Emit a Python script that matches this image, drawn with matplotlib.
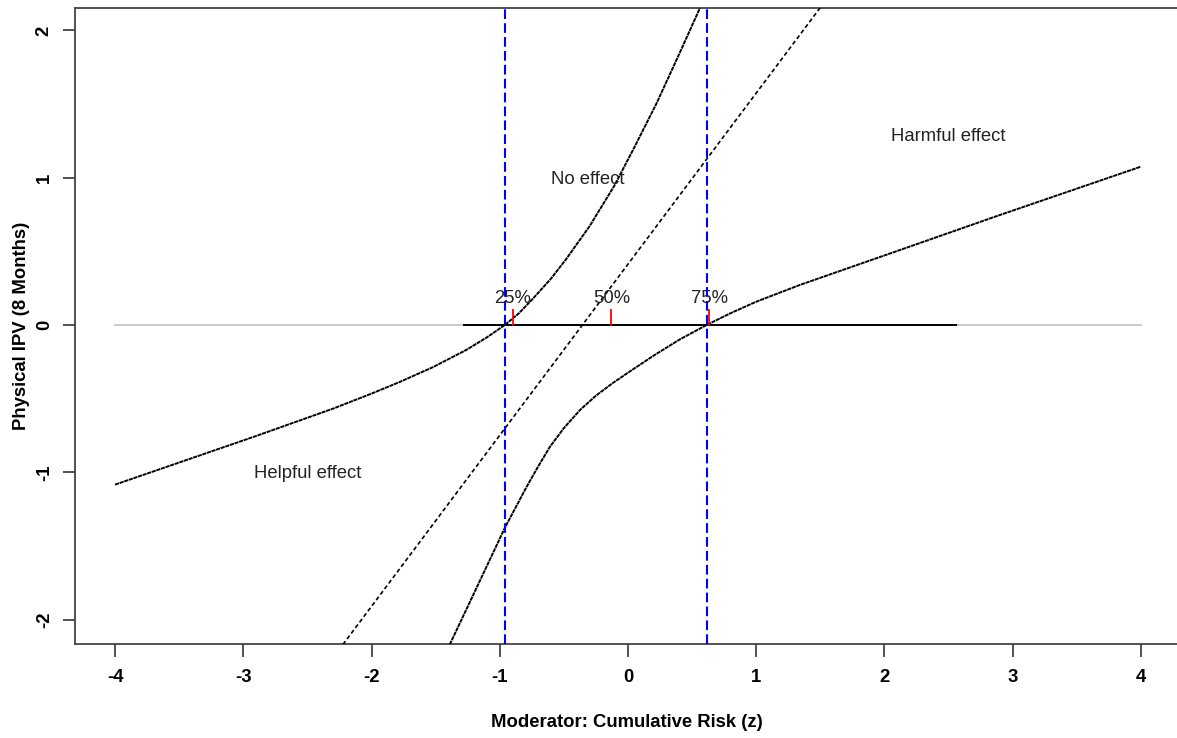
import matplotlib
matplotlib.use("Agg")
import matplotlib.pyplot as plt

plt.rcParams['font.family'] = ['Liberation Sans', 'DejaVu Sans']
plt.rcParams['lines.scale_dashes'] = False
plt.rcParams['axes.unicode_minus'] = False

# simple slope line (estimate of the effect)
z_est = [-4.0, 4.0]
est = [-4.234, 5.060]

# upper confidence band
z_upper = [-4.0, -3.47, -2.92, -2.30, -2.0, -1.78, -1.52, -1.26, -1.10, -0.96,
           -0.85, -0.74, -0.60, -0.48, -0.30, -0.11, 0.04, 0.22, 0.41, 0.56, 0.60]
upper = [-1.084, -0.925, -0.76, -0.568, -0.466, -0.387, -0.286, -0.169, -0.084,
         0.0, 0.08, 0.18, 0.315, 0.45, 0.67, 0.94, 1.19, 1.50, 1.86, 2.15, 2.23]

# lower confidence band
z_lower = [-1.42, -1.388, -1.20, -0.959, -0.79, -0.70, -0.608, -0.50, -0.374,
           -0.25, -0.12, 0.0, 0.20, 0.40, 0.613, 0.80, 1.0, 1.341, 2.121,
           2.901, 4.0]
lower = [-2.23, -2.166, -1.82, -1.375, -1.098, -0.96, -0.826, -0.70, -0.577,
         -0.48, -0.395, -0.324, -0.208, -0.10, 0.0, 0.08, 0.158, 0.272, 0.509,
         0.747, 1.075]

# Johnson-Neyman points, observed range and quartiles of the moderator
jn_points = [-0.96, 0.615]
z_range = [-1.28, 2.56]
q_pos = [-0.90, -0.13, 0.635]
q_labels = ['25%', '50%', '75%']

regions = ['Helpful effect', 'No effect', 'Harmful effect']
region_z = [-2.50, -0.31, 2.50]
region_y = [-1.01, 0.985, 1.28]

W, H = 1177, 738
fig = plt.figure(figsize=(W / 100, H / 100), dpi=100)
# axes box in pixels: left 75, right 1181 (cut off), top 8, bottom 644
ax = fig.add_axes([75 / W, (H - 644) / H, (1181 - 75) / W, (644 - 8) / H])
ax.set_xlim(-4.312, 4.312)
ax.set_ylim(-2.166, 2.152)

# zero line: grey over the full axis, black over the observed range
ax.plot([-4, 4], [0, 0], color='#c8c8c8', lw=1.3, zorder=1)
ax.plot(z_range, [0, 0], color='black', lw=1.4, zorder=2)

# bands and estimate
ax.plot(z_upper, upper, color='black', lw=1.4, dashes=(3.0, 0.5), zorder=3)
ax.plot(z_lower, lower, color='black', lw=1.4, dashes=(3.0, 0.5), zorder=3)
ax.plot(z_est, est, color='black', lw=1.2, dashes=(3.0, 2.0), zorder=3)

# Johnson-Neyman boundaries
for jn in jn_points:
    ax.axvline(jn, color='#0000ff', lw=1.5, dashes=(7, 3), zorder=4)

# quartile ticks and labels
for q, lab in zip(q_pos, q_labels):
    ax.plot([q, q], [0, 0.1], color='red', lw=1.3, zorder=5)
    ax.text(q, 0.18, lab, ha='center', va='center', fontsize=13.3, color='#222222')

for lab, zx, zy in zip(regions, region_z, region_y):
    ax.text(zx, zy, lab, ha='center', va='center', fontsize=13.3, color='#222222')

# axes styling, R-like
for s in ax.spines.values():
    s.set_color('#444444')
    s.set_linewidth(1.3)
ax.set_xticks([-4, -3, -2, -1, 0, 1, 2, 3, 4])
ax.set_yticks([-2, -1, 0, 1, 2])
ax.tick_params(axis='both', length=9, width=1.3, color='#444444',
               labelsize=13.3, direction='out')
ax.tick_params(axis='x', pad=9)
ax.tick_params(axis='y', pad=7, labelrotation=90)
for lbl in ax.get_xticklabels() + ax.get_yticklabels():
    lbl.set_fontweight('bold')
for lbl in ax.get_yticklabels():
    lbl.set_va('center')

ax.set_xlabel('Moderator: Cumulative Risk (z)', fontsize=13.3, fontweight='bold')
ax.set_ylabel('Physical IPV (8 Months)', fontsize=13.3, fontweight='bold')
ax.xaxis.set_label_coords((627 - 75) / 1106, (644 - 714) / 636)
ax.yaxis.set_label_coords((30 - 75) / 1106, 0.5)

fig.savefig('out.png', dpi=100)
